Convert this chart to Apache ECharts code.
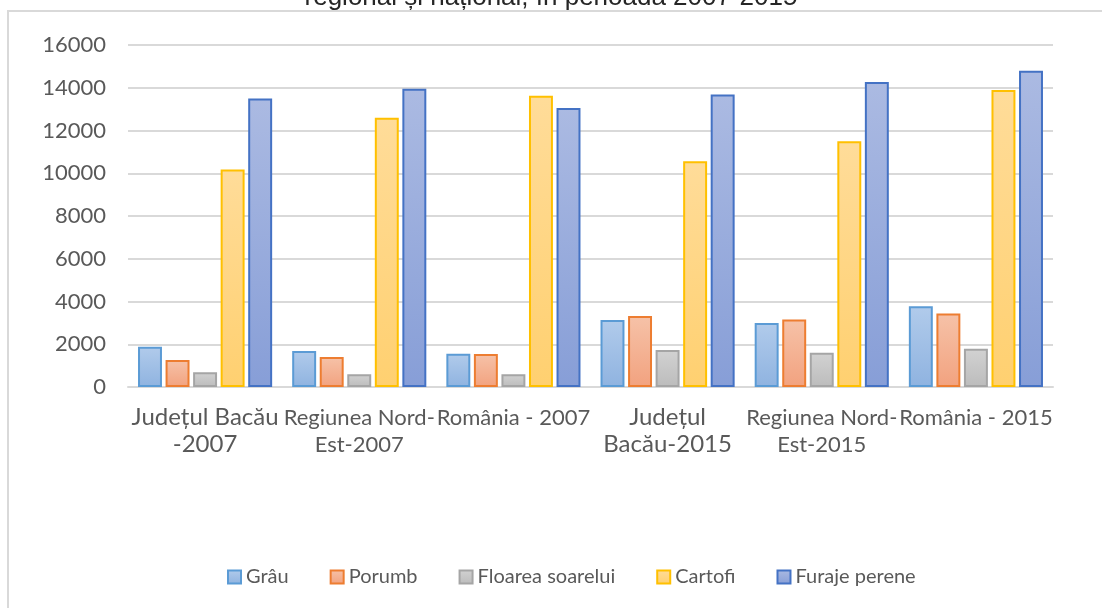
<!DOCTYPE html>
<html>
<head>
<meta charset="utf-8">
<script src="https://cdn.jsdelivr.net/npm/echarts@6/dist/echarts.min.js"></script>
<style>
html,body{margin:0;padding:0;background:#fff;}
#chart1{width:1102px;height:608px;}
</style>
</head>
<body>
<div id="chart1"></div>
<script>
var categories = ['Județul Bacău\n-2007', 'Regiunea Nord-\nEst-2007', 'România - 2007',
	'Județul\nBacău-2015', 'Regiunea Nord-\nEst-2015', 'România - 2015'];
var seriesNames = ['Grâu', 'Porumb', 'Floarea soarelui', 'Cartofi', 'Furaje perene'];
var grau = [1880, 1680, 1550, 3130, 3000, 3780];
var porumb = [1260, 1400, 1540, 3320, 3160, 3440];
var floarea = [690, 600, 600, 1730, 1600, 1790];
var cartofi = [10180, 12600, 13630, 10560, 11500, 13900];
var furaje = [13500, 13950, 13050, 13680, 14270, 14800];
var yTicks = [0, 2000, 4000, 6000, 8000, 10000, 12000, 14000, 16000];

init();

function grad(top, bottom){
	return new echarts.graphic.LinearGradient(0, 0, 0, 1, [
		{offset: 0, color: top},
		{offset: 1, color: bottom}
	]);
}

function init(){
	var myChart = echarts.init(document.getElementById('chart1'));
	var values = [grau, porumb, floarea, cartofi, furaje];
	var fills = [
		grad('#b1cbeb', '#8fb3e0'),
		grad('#f6c2a8', '#f2a27f'),
		grad('#d2d2d2', '#bcbcbc'),
		grad('#ffdc99', '#ffd070'),
		grad('#abbae2', '#879ed7')
	];
	var borders = ['#5b9bd5', '#ed7d31', '#a5a5a5', '#ffc000', '#4472c4'];

	var catData = [];
	for(var i=0;i<categories.length;i++){
		var big = categories[i].indexOf('Județul') === 0;
		catData.push({value: categories[i], textStyle: {fontSize: big ? 24 : 22}});
	}

	var series = [];
	for(var s=0;s<seriesNames.length;s++){
		series.push({
			name: seriesNames[s],
			type: 'bar',
			data: values[s],
			barGap: '15%',
			barCategoryGap: '13%',
			itemStyle: {
				color: fills[s],
				borderColor: borders[s],
				borderWidth: 2
			}
		});
	}

	var option = {
		backgroundColor: '#ffffff',
		animation: false,
		title: {
			text: 'regional și național, în perioada 2007-2015',
			left: 'center',
			top: -20,
			textStyle: {fontFamily: 'Liberation Sans', fontSize: 26, fontWeight: 'normal', color: '#262626'}
		},
		graphic: [{
			type: 'rect',
			shape: {x: 8, y: 11, width: 1200, height: 700},
			style: {fill: 'none', stroke: '#d9d9d9', lineWidth: 2},
			silent: true
		}],
		legend: {
			bottom: 16,
			left: 222,
			icon: 'rect',
			itemWidth: 13,
			itemHeight: 13,
			itemGap: 41,
			textStyle: {fontFamily: 'Lato', fontSize: 20, color: '#595959'},
			data: seriesNames
		},
		grid: {
			left: 128,
			right: 49,
			top: 45,
			bottom: 221
		},
		xAxis: {
			type: 'category',
			data: catData,
			axisTick: {show: false},
			axisLine: {lineStyle: {color: '#d9d9d9', width: 2}},
			axisLabel: {
				interval: 0,
				margin: 17,
				fontFamily: 'Lato',
				color: '#595959',
				lineHeight: 27
			}
		},
		yAxis: {
			type: 'value',
			min: yTicks[0],
			max: yTicks[yTicks.length - 1],
			interval: 2000,
			axisLine: {show: false},
			axisTick: {show: false},
			splitLine: {lineStyle: {color: '#d9d9d9', width: 2}},
			axisLabel: {
				margin: 22,
				fontFamily: 'Lato',
				fontSize: 22,
				color: '#595959',
				formatter: function(v){ return String(v); }
			}
		},
		series: series
	};
	myChart.setOption(option);
}
</script>
</body>
</html>
